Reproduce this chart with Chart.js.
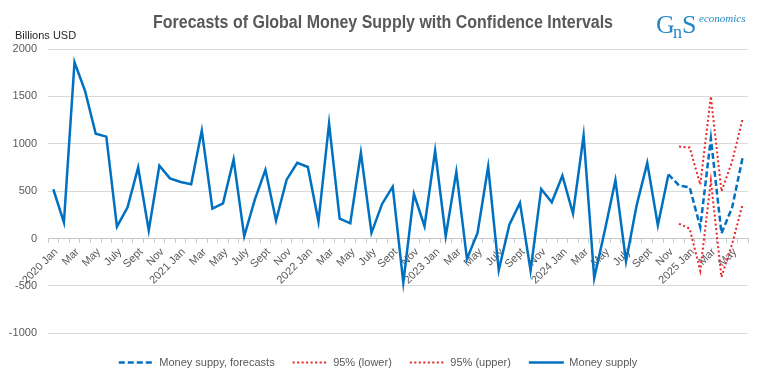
<!DOCTYPE html>
<html>
<head>
<meta charset="utf-8">
<script src="https://cdn.jsdelivr.net/npm/chart.js@4/dist/chart.umd.min.js"></script>
<style>
  html, body { margin: 0; padding: 0; background: #ffffff; }
  #wrap { width: 768px; height: 379px; position: relative; }
</style>
</head>
<body>
<div id="wrap"><canvas id="c"></canvas></div>
<script>
// ---- data ----
const years = [2020, 2021, 2022, 2023, 2024, 2025];
const monthNames = ['Jan','Feb','Mar','Apr','May','June','July','Aug','Sept','Oct','Nov','Dec'];
const lastMonthIndex = 65; // Jan 2020 .. Jun 2025

const moneySupply = [
  520, 170, 1860, 1555, 1105, 1075, 125, 330, 750, 85, 768, 635,
  597, 572, 1140, 316, 372, 835, 24, 410, 725, 190, 621, 800,
  755, 179, 1214, 210, 161, 905, 60, 365, 547, -465, 470, 130,
  926, 24, 705, -215, 60, 758, -335, 145, 376, -340, 523, 382,
  663, 263, 1087, -418, 85, 615, -240, 350, 798, 140, 676
];
// forecast starts at Nov 2024 (index 58), continuing from last actual value
const forecastStart = 58;
const forecast = [676, 560, 540, 122, 1057, 55, 325, 858];
const ciStart = 59; // Dec 2024
const upper95 = [970, 960, 569, 1500, 498, 810, 1267];
const lower95 = [156, 105, -340, 610, -408, -60, 367];

const yTicks = [-1000, -500, 0, 500, 1000, 1500, 2000];

// ---- build ----
const labels = [];
for (let i = 0; i <= lastMonthIndex; i++) {
  const y = years[Math.floor(i / 12)];
  const m = monthNames[i % 12];
  labels.push(i % 12 === 0 ? y + ' ' + m : m);
}
function place(arr, start) {
  const out = new Array(labels.length).fill(null);
  arr.forEach((v, k) => { out[start + k] = v; });
  return out;
}

const FONT = "'Liberation Sans', Arial, sans-serif";
const SERIF = "'Liberation Serif', 'DejaVu Serif', serif";
const BLUE = '#0070C0';
const RED = '#E8262A';

const extras = {
  id: 'extras',
  afterDraw(chart) {
    const ctx = chart.ctx;
    ctx.save();
    // title, condensed horizontally to the reference width
    const title = 'Forecasts of Global Money Supply with Confidence Intervals';
    ctx.fillStyle = '#595959';
    ctx.font = 'bold 18px ' + FONT;
    ctx.textAlign = 'center';
    ctx.textBaseline = 'alphabetic';
    const w = ctx.measureText(title).width;
    const sx = 460 / w;
    ctx.save();
    ctx.translate(383, 28);
    ctx.scale(sx, 1);
    ctx.fillText(title, 0, 0);
    ctx.restore();
    ctx.fillStyle = '#262626';
    ctx.font = '11px ' + FONT;
    ctx.textAlign = 'left';
    ctx.textBaseline = 'middle';
    ctx.fillText('Billions USD', 15, 36);
    // logo
    ctx.fillStyle = '#2388c8';
    ctx.textBaseline = 'alphabetic';
    ctx.font = '26px ' + SERIF;
    ctx.fillText('G', 656, 33);
    ctx.font = '18px ' + SERIF;
    ctx.fillText('n', 673, 38);
    ctx.font = '26px ' + SERIF;
    ctx.fillText('S', 682, 33);
    ctx.font = 'italic 11px ' + SERIF;
    ctx.fillText('economics', 699, 22);
    ctx.restore();
  }
};

const datasets = [
  { label: 'Money suppy, forecasts', data: place(forecast, forecastStart), borderColor: BLUE, borderWidth: 2.5, borderDash: [6, 3] },
  { label: '95% (lower)', data: place(lower95, ciStart), borderColor: RED, borderWidth: 2, borderDash: [2, 2.5] },
  { label: '95% (upper)', data: place(upper95, ciStart), borderColor: RED, borderWidth: 2, borderDash: [2, 2.5] },
  { label: 'Money supply', data: place(moneySupply, 0), borderColor: BLUE, borderWidth: 2.5 }
].map(d => Object.assign({ pointRadius: 0, pointHoverRadius: 0, fill: false, tension: 0, spanGaps: false, backgroundColor: d.borderColor }, d));

new Chart(document.getElementById('c'), {
  type: 'line',
  data: { labels, datasets },
  plugins: [extras],
  options: {
    responsive: true,
    maintainAspectRatio: false,
    animation: false,
    layout: { padding: { top: 49, left: 8, right: 20, bottom: 1 } },
    plugins: {
      title: { display: false },
      tooltip: { enabled: false },
      legend: {
        position: 'bottom',
        title: { display: true, text: ' ', font: { size: 1 }, padding: { top: 2, bottom: 2.5 } },
        labels: {
          font: { family: FONT, size: 11 },
          color: '#595959',
          usePointStyle: true,
          pointStyleWidth: 35,
          padding: 18,
          generateLabels(chart) {
            return chart.data.datasets.map((ds, i) => ({
              text: ds.label,
              fillStyle: ds.borderColor,
              strokeStyle: ds.borderColor,
              lineWidth: ds.borderWidth,
              lineDash: ds.borderDash || [],
              pointStyle: 'line',
              fontColor: '#595959',
              hidden: false,
              datasetIndex: i
            }));
          }
        }
      }
    },
    scales: {
      x: {
        position: { y: 0 },
        offset: true,
        grid: { drawOnChartArea: false, drawTicks: true, tickLength: 4, offset: true, color: '#c8c8c8' },
        border: { display: true, color: '#c8c8c8' },
        ticks: {
          autoSkip: false,
          maxRotation: 45,
          minRotation: 45,
          padding: 3,
          labelOffset: 3,
          color: '#595959',
          font: { family: FONT, size: 11 },
          callback(val, idx) { return idx % 2 === 0 ? labels[idx] : ''; }
        }
      },
      y: {
        min: yTicks[0],
        max: yTicks[yTicks.length - 1],
        afterBuildTicks(scale) { scale.ticks = yTicks.map(v => ({ value: v })); },
        afterFit(scale) { scale.width = 40; },
        grid: { color: '#d9d9d9', drawTicks: false },
        border: { display: false },
        ticks: {
          padding: 11, color: '#595959', font: { family: FONT, size: 11 },
          callback(v) { return String(v); }
        }
      }
    }
  }
});
</script>
</body>
</html>
